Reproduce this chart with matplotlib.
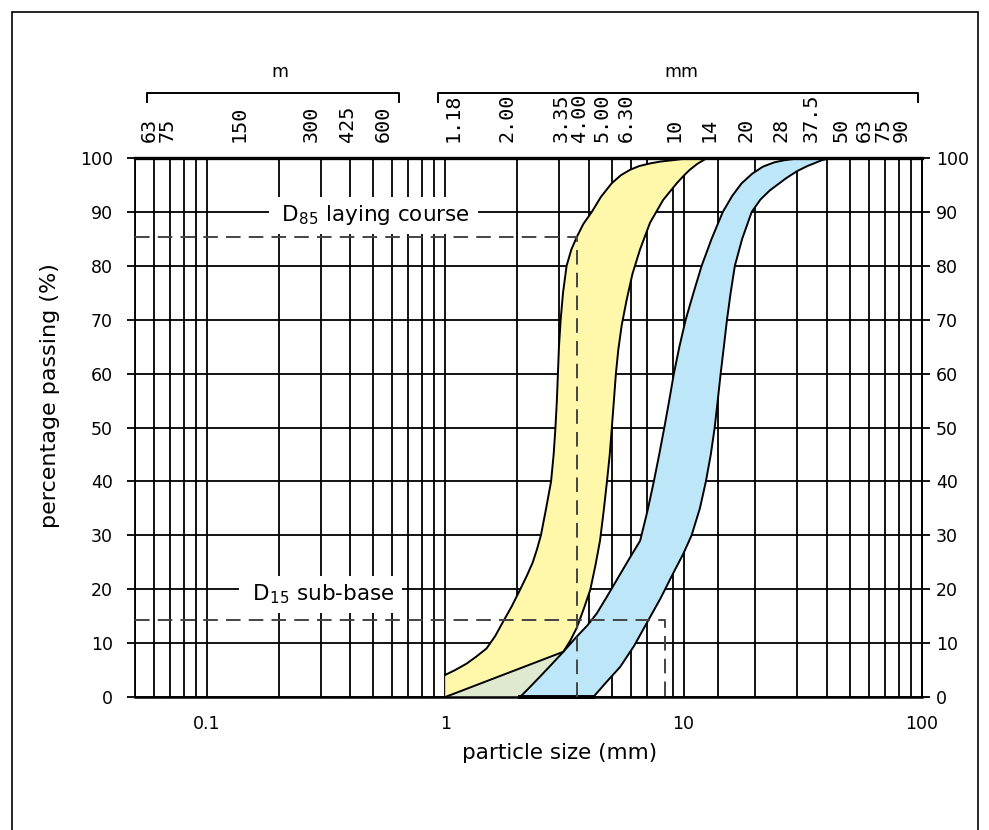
import matplotlib.pyplot as plt
from matplotlib.patches import Rectangle
from matplotlib.ticker import NullLocator

# sieve sizes printed along the top (mm) with their labels
sieve_um = [0.063, 0.075, 0.150, 0.300, 0.425, 0.600]
sieve_um_labels = ['63', '75', '150', '300', '425', '600']
sieve_mm = [1.18, 2.00, 3.35, 4.00, 5.00, 6.30, 10, 14, 20, 28, 37.5, 50, 63, 75, 90]
sieve_mm_labels = ['1.18', '2.00', '3.35', '4.00', '5.00', '6.30', '10', '14',
                   '20', '28', '37.5', '50', '63', '75', '90']

# vertical lines of the chart paper (mm)
grid_x = [0.05, 0.06, 0.07, 0.08, 0.09,
          0.1, 0.2, 0.3, 0.4, 0.5, 0.6, 0.7, 0.8, 0.9,
          1, 2, 3, 4, 5, 6, 7, 9,
          10, 14, 20, 30, 40, 50, 60, 70, 80, 90, 100]
x_ticks = [0.1, 1, 10, 100]
x_tick_labels = ['0.1', '1', '10', '100']
percent_ticks = [0, 10, 20, 30, 40, 50, 60, 70, 80, 90, 100]

# laying course envelope (yellow)
yellow_fine_size = [1.0, 1.1, 1.23, 1.35, 1.49, 1.62, 1.75, 1.9, 2.06, 2.2, 2.33, 2.43,
                    2.52, 2.65, 2.78, 2.85, 2.9, 2.94, 2.97, 3.0, 3.05, 3.12, 3.23,
                    3.38, 3.56, 3.8, 4.12, 4.5, 4.99, 5.45, 5.95, 6.5, 7.23, 8.0, 9.0,
                    10.0, 11.0]
yellow_fine_pass = [4.1, 5.0, 6.2, 7.5, 9.0, 11.3, 14.0, 16.8, 19.9, 22.5, 25.0, 27.5,
                    30, 35, 40, 45, 50, 55, 60, 65, 70, 75, 80,
                    83, 85.3, 87.8, 90.0, 92.8, 95.3, 96.8, 97.8, 98.5, 99.0, 99.35, 99.6,
                    99.85, 100]
yellow_coarse_size = [1.0, 3.13, 3.35, 3.56, 3.8, 4.06, 4.27, 4.46, 4.62, 4.77, 4.9, 5.0,
                      5.1, 5.2, 5.32, 5.5, 5.77, 6.1, 6.56, 7.23, 8.2, 9.35, 10.0, 10.6,
                      11.4, 12.1, 12.6]
yellow_coarse_pass = [0, 8.4, 10.5, 12.8, 16.2, 19.9, 24.5, 29, 34.5, 40, 45, 50,
                      55, 60, 64.4, 69, 73.7, 78.5, 83, 88, 92.2, 95.3, 96.7, 97.8,
                      98.9, 99.6, 100]

# sub-base envelope (blue)
blue_fine_size = [2.06, 2.25, 2.5, 2.8, 3.13, 3.56, 3.95, 4.32, 4.75, 5.24, 5.85, 6.57,
                  7.05, 7.5, 7.9, 8.3, 8.7, 9.1, 9.6, 10.2, 11.0, 11.9, 13.1, 14.6,
                  16.0, 17.5, 19.4, 21.5, 24, 26.5, 31]
blue_fine_pass = [0, 1.7, 3.8, 6.1, 8.4, 11.2, 13.3, 15.5, 18.5, 21.7, 25.3, 29,
                  34.5, 40, 45, 50, 55, 60, 65, 70, 75, 80, 85, 90,
                  93, 95.3, 97.1, 98.4, 99.2, 99.6, 100]
blue_coarse_size = [4.18, 4.75, 5.42, 6.2, 7.0, 8.0, 9.05, 9.95, 10.8, 11.7, 12.4, 13.0,
                    13.5, 13.9, 14.3, 14.75, 15.2, 15.75, 16.4, 17.6, 19.3, 21, 23, 27,
                    30, 33, 38, 41.5]
blue_coarse_pass = [0, 2.8, 5.6, 9.5, 13.7, 18.3, 23, 26.5, 30, 35, 40, 45,
                    50, 55, 60, 65, 70, 75, 80, 85, 90, 92.3, 94, 96.3,
                    97.6, 98.5, 99.6, 100]

# design points
d85_size, d85_pass = 3.56, 85.3
d15_size, d15_pass = 8.35, 14.3

YELLOW = '#fff7aa'
BLUE = '#bde6f8'
GREEN = '#dee9d0'

fig = plt.figure(figsize=(9.89, 8.30), dpi=100)
ax = fig.add_axes([0.1365, 0.1602, 0.7958, 0.6494])
ax.set_xscale('log')
ax.set_xlim(0.05, 100)
ax.set_ylim(0, 100)

for gx in grid_x:
    ax.axvline(gx, color='black', lw=1.3, zorder=1)
for gy in percent_ticks:
    ax.axhline(gy, color='black', lw=1.3, zorder=1)

# envelopes
ax.fill([1.0] + yellow_fine_size + yellow_coarse_size[::-1],
        [0] + yellow_fine_pass + yellow_coarse_pass[::-1],
        color=YELLOW, lw=0, zorder=2)
ax.fill(blue_fine_size + blue_coarse_size[::-1],
        blue_fine_pass + blue_coarse_pass[::-1],
        color=BLUE, lw=0, zorder=2)
# overlap triangle at the foot of both bands
n_foot = blue_fine_pass.index(yellow_coarse_pass[1]) + 1
ax.fill(yellow_coarse_size[:2] + blue_fine_size[:n_foot][::-1],
        yellow_coarse_pass[:2] + blue_fine_pass[:n_foot][::-1],
        color=GREEN, lw=0, zorder=2)

for xs, ys in [(yellow_fine_size, yellow_fine_pass), (yellow_coarse_size, yellow_coarse_pass),
               (blue_fine_size, blue_fine_pass), (blue_coarse_size, blue_coarse_pass)]:
    ax.plot(xs, ys, color='black', lw=1.4, zorder=3, solid_joinstyle='round')
ax.plot([blue_fine_size[0], blue_coarse_size[0]], [0, 0], color='black', lw=2.8, zorder=3,
        clip_on=False)

# D85 / D15 construction lines
dash = (0, (7.5, 4.2))
ax.plot([0.05, d85_size, d85_size], [d85_pass, d85_pass, 0], ls=dash, color='#444444',
        lw=1.4, zorder=4)
ax.plot([0.05, d15_size, d15_size], [d15_pass, d15_pass, 0], ls=dash, color='#444444',
        lw=1.4, zorder=4)

box = dict(boxstyle='square,pad=0.3', fc='white', ec='none')
ax.text(0.50, 89.4, ' D$_{85}$ laying course ', ha='center', va='center', fontsize=15.5,
        bbox=box, zorder=6)
ax.text(0.30, 19.0, ' D$_{15}$ sub-base ', ha='center', va='center', fontsize=15.5,
        bbox=box, zorder=6)

# axes styling
ax.spines['top'].set_linewidth(2.4)
ax.spines['bottom'].set_linewidth(1.8)
ax.spines['left'].set_linewidth(1.3)
ax.spines['right'].set_linewidth(1.3)

ax.set_xticks(x_ticks)
ax.set_xticklabels(x_tick_labels)
ax.xaxis.set_minor_locator(NullLocator())
ax.tick_params(axis='x', length=0, pad=13, labelsize=12.5, colors='black')
ax.set_yticks(percent_ticks)
ax.yaxis.set_minor_locator(NullLocator())
ax.tick_params(axis='y', direction='out', length=6, width=1.3, left=True, right=False,
               labelleft=True, labelright=False, labelsize=12.5, pad=10)

right_ax = ax.secondary_yaxis('right')
right_ax.set_yticks(percent_ticks)
right_ax.tick_params(direction='out', length=6, width=1.3, labelsize=12.5, pad=4)
right_ax.spines['right'].set_linewidth(1.3)

ax.set_xlabel('particle size (mm)', fontsize=15.5)
ax.xaxis.set_label_coords(0.54, -0.085)
ax.set_ylabel('percentage passing (%)', fontsize=16)
ax.yaxis.set_label_coords(-0.095, 0.56)

# sieve labels along the top
for s, lab in zip(sieve_um + sieve_mm, sieve_um_labels + sieve_mm_labels):
    ax.annotate(lab, xy=(s, 1), xycoords=('data', 'axes fraction'), xytext=(0, 11.5),
                textcoords='offset points', rotation=90, ha='right', va='bottom',
                fontsize=14.5, family='DejaVu Sans Mono')

# brackets grouping the top labels
trans = ax.get_xaxis_transform()
ax.plot([0.056, 0.056, 0.64, 0.64], [1.104, 1.121, 1.121, 1.104], transform=trans,
        color='black', lw=1.4, clip_on=False)
ax.plot([0.93, 0.93, 96, 96], [1.104, 1.121, 1.121, 1.104], transform=trans,
        color='black', lw=1.4, clip_on=False)
ax.text(0.203, 1.16, 'm', transform=trans, ha='center', va='center', fontsize=12.5)
ax.text(9.8, 1.16, 'mm', transform=trans, ha='center', va='center', fontsize=12.5)

# frame round the figure
fig.patches.append(Rectangle((12 / 989, -0.02), 966 / 989, 1 - 12 / 830 + 0.02,
                             transform=fig.transFigure, fill=False, ec='black', lw=1.2))

fig.savefig('out.png', dpi=100)
